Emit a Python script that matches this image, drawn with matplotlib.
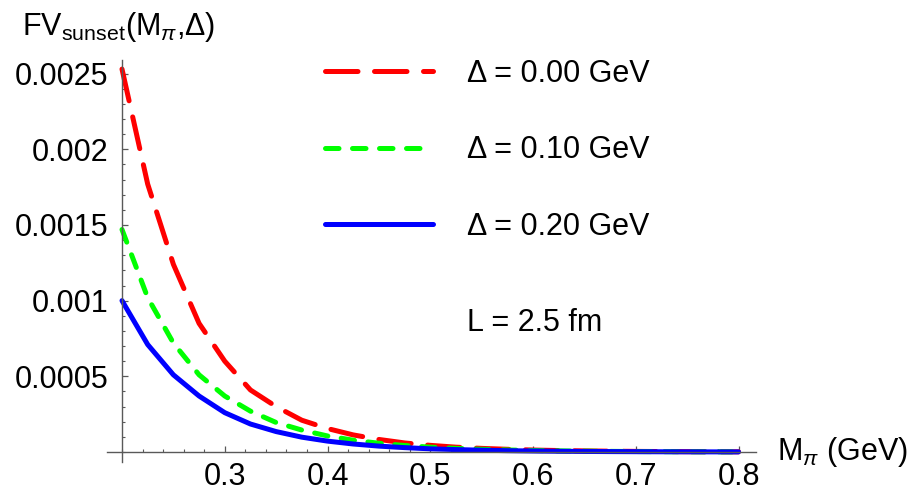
import matplotlib
matplotlib.use("Agg")
import matplotlib.pyplot as plt
from matplotlib.ticker import MultipleLocator, FixedLocator, FixedFormatter

plt.rcParams['font.family'] = ['Liberation Sans', 'DejaVu Sans']
plt.rcParams['mathtext.fontset'] = 'custom'
plt.rcParams['mathtext.rm'] = 'Liberation Sans'
plt.rcParams['mathtext.it'] = 'Liberation Sans:italic'

# ---- data ----
m_pi = [0.200, 0.225, 0.250, 0.275, 0.300, 0.325, 0.350, 0.375, 0.400, 0.425,
        0.450, 0.475, 0.500, 0.525, 0.550, 0.575, 0.600, 0.625, 0.650, 0.675,
        0.700, 0.725, 0.750, 0.775, 0.800]
fv_d000 = [0.00253, 0.00177, 0.00124, 0.00085, 0.00060, 0.00041, 0.00030, 0.00021,
           0.000155, 0.000113, 0.000083, 0.000060, 0.000044, 0.000032, 0.000024,
           0.000018, 0.000013, 0.0000098, 0.0000073, 0.0000055, 0.0000041,
           0.0000031, 0.0000023, 0.0000017, 0.0000013]
fv_d010 = [0.00147, 0.00102, 0.00072, 0.00051, 0.00037, 0.00027, 0.000195, 0.000145,
           0.000106, 0.000078, 0.000058, 0.000043, 0.000032, 0.000024, 0.000018,
           0.0000135, 0.0000101, 0.0000076, 0.0000057, 0.0000043, 0.0000032,
           0.0000024, 0.0000018, 0.0000014, 0.0000010]
fv_d020 = [0.00100, 0.00071, 0.00051, 0.00037, 0.00026, 0.000185, 0.000135, 0.000098,
           0.000072, 0.000053, 0.000039, 0.000029, 0.000021, 0.000016, 0.000012,
           0.0000088, 0.0000066, 0.0000049, 0.0000037, 0.0000028, 0.0000021,
           0.0000016, 0.0000012, 0.0000009, 0.0000007]
series_labels = ['Δ = 0.00 GeV', 'Δ = 0.10 GeV', 'Δ = 0.20 GeV']
x_ticks = [0.3, 0.4, 0.5, 0.6, 0.7, 0.8]
x_ticklabels = ['0.3', '0.4', '0.5', '0.6', '0.7', '0.8']
y_ticks = [0.0005, 0.001, 0.0015, 0.002, 0.0025]
y_ticklabels = ['0.0005', '0.001', '0.0015', '0.002', '0.0025']

W, H = 913, 491
fig = plt.figure(figsize=(W / 100, H / 100), dpi=100)
ax = fig.add_axes([107 / W, 1 - 462 / H, (756 - 107) / W, (462 - 60) / H])

lw = 3.6
l1, = ax.plot(m_pi, fv_d000, color=(1, 0, 0), lw=lw, dashes=(6.5, 3.3),
              dash_capstyle='round', solid_capstyle='round', label=series_labels[0])
l2, = ax.plot(m_pi, fv_d010, color=(0, 1, 0), lw=lw, dashes=(2.7, 2.7),
              dash_capstyle='round', solid_capstyle='round', label=series_labels[1])
l3, = ax.plot(m_pi, fv_d020, color=(0, 0, 1), lw=lw,
              solid_capstyle='round', label=series_labels[2])

ax.set_xlim(0.1854, 0.817)
ax.set_ylim(-0.000066, 0.00259)

for s in ['top', 'right']:
    ax.spines[s].set_visible(False)
ax.spines['left'].set_position(('data', 0.2))
ax.spines['bottom'].set_position(('data', 0.0))
axcol = '0.35'
for s in ['left', 'bottom']:
    ax.spines[s].set_color(axcol)
    ax.spines[s].set_linewidth(1.0)

ax.xaxis.set_major_locator(FixedLocator(x_ticks))
ax.xaxis.set_major_formatter(FixedFormatter(x_ticklabels))
ax.xaxis.set_minor_locator(MultipleLocator(0.02))
ax.yaxis.set_major_locator(FixedLocator(y_ticks))
ax.yaxis.set_major_formatter(FixedFormatter(y_ticklabels))
ax.yaxis.set_minor_locator(MultipleLocator(0.0001))

fs = 22
ax.tick_params(axis='both', which='major', direction='in', length=4.5, width=0.9,
               color=axcol, labelsize=fs, labelcolor='black')
ax.tick_params(axis='both', which='minor', direction='in', length=2.5, width=0.8,
               color=axcol)
ax.tick_params(axis='x', which='major', pad=7)
ax.tick_params(axis='y', which='major', pad=10)

# axis labels
fig.text(22 / W, 1 - 27 / H, r'FV$_{\mathrm{sunset}}$(M$_{\pi}$,Δ)', fontsize=fs,
         ha='left', va='center')
fig.text(777 / W, 1 - 452 / H, r'M$_{\pi}$ (GeV)', fontsize=fs, ha='left', va='center')

leg = ax.legend(handles=[l1, l2, l3], loc='upper left',
                bbox_to_anchor=(325 / W, 1 - 59 / H), bbox_transform=fig.transFigure,
                frameon=False, fontsize=fs, handlelength=3.53, handletextpad=1.11,
                labelspacing=1.52, borderpad=0, borderaxespad=0)

fig.text(467 / W, 1 - 323 / H, 'L = 2.5 fm', fontsize=fs, ha='left', va='center')

fig.savefig('out.png', dpi=100)
